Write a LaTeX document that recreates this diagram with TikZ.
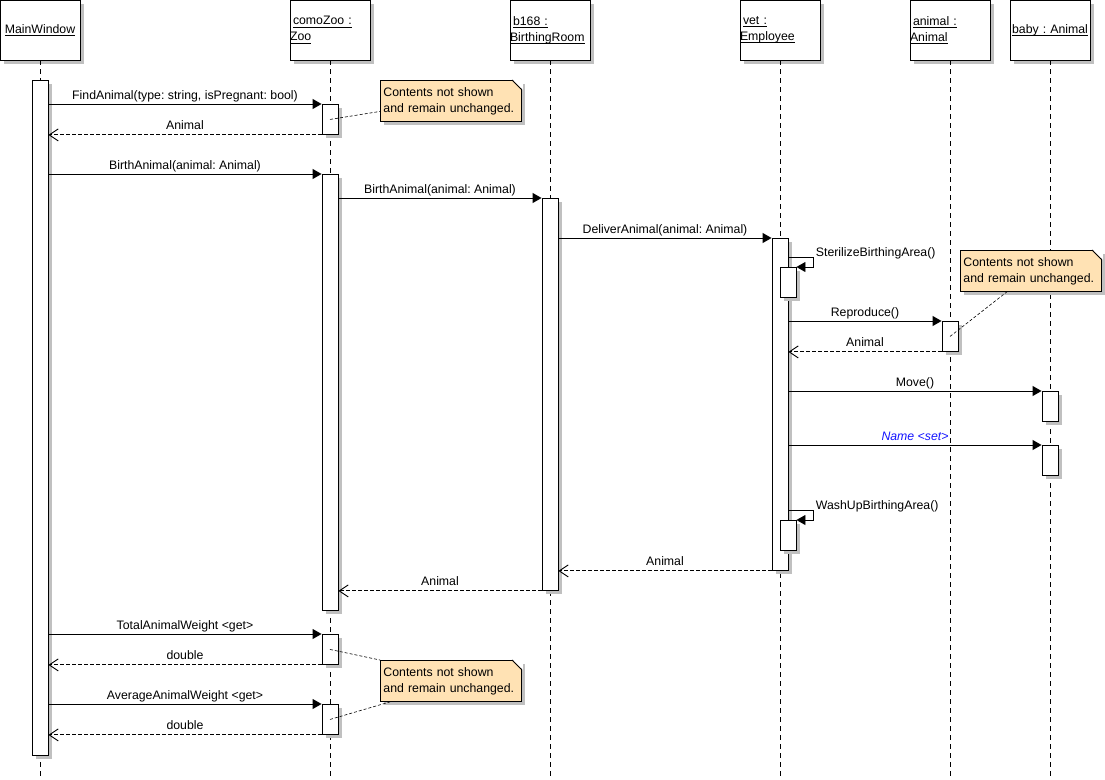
\documentclass[tikz,border=0pt]{standalone}
\usepackage{fontspec}
\setmainfont{Liberation Sans}
\usetikzlibrary{arrows.meta,calc,shadows}

\definecolor{notefill}{RGB}{255,226,180}
\definecolor{shade}{RGB}{192,192,192}
\definecolor{setblue}{RGB}{20,20,255}
\newcommand{\umlfont}{\fontsize{12.3}{16}\selectfont}
\newlength{\objnamewd}
\newcommand{\objname}[1]{\leavevmode\settowidth{\objnamewd}{#1}%
  \rlap{\rule[-2.5pt]{\objnamewd}{0.9pt}}#1}
\frenchspacing

\tikzset{
  uml shadow/.style={general shadow={fill=shade, shadow xshift=4pt, shadow yshift=-4pt}},
  obj/.style={draw, fill=white, uml shadow, minimum width=80pt, minimum height=60pt,
              text width=80pt, inner sep=0pt, align=center, font=\umlfont},
  lifeline/.style={dash pattern=on 5pt off 4pt},
  act/.style={draw, fill=white, uml shadow, anchor=north, minimum width=16pt, inner sep=0pt},
  call/.style={-{Triangle[length=9pt,width=10pt]}},
  reply/.style={dash pattern=on 4pt off 2pt, -{Straight Barb[length=9pt,width=12pt]}},
  msg/.style={anchor=base, inner sep=0pt, yshift=5pt, font=\umlfont},
  selfmsg/.style={anchor=base west, inner sep=0pt, xshift=2pt, yshift=1pt, font=\umlfont},
  note/.style={draw, fill=notefill, uml shadow, anchor=north west, minimum width=141pt,
               minimum height=41pt, text width=135pt, inner xsep=3pt, align=left, font=\umlfont},
  noteline/.style={dash pattern=on 3pt off 2pt, line width=0.6pt},
}

\begin{document}
\begin{tikzpicture}[x=1pt, y=-1pt, line width=0.9pt]
  \useasboundingbox (0,0) rectangle (1105,779);
  \coordinate (bottom) at (0,779);

  % objects
  \node[obj] (mw) at (40,30) {\objname{MainWindow}};
  \node[obj, align=left] (zoo) at (330,30) {\hspace*{3pt}\objname{comoZoo :}\\\objname{Zoo}};
  \node[obj, align=left] (room) at (550,30) {\hspace*{3pt}\objname{b168 :}\\\objname{BirthingRoom}};
  \node[obj, align=left] (vet) at (780,30) {\hspace*{3pt}\objname{vet :}\\\objname{Employee}};
  \node[obj, align=left] (animal) at (950,30) {\hspace*{3pt}\objname{animal :}\\\objname{Animal}};
  \node[obj] (baby) at (1050,30) {\objname{baby : Animal}};

  % lifelines
  \foreach \o in {mw,zoo,room,vet,animal,baby}
    \draw[lifeline] (\o.south) -- (\o.south |- bottom);

  % activations
  \node[act, minimum height=675pt] (mwa) at (40,80) {};
  \node[act, minimum height=30pt]  (za1) at (330,104) {};
  \node[act, minimum height=436pt] (za2) at (330,174) {};
  \node[act, minimum height=392pt] (ba)  at (550,198) {};
  \node[act, minimum height=332pt] (va)  at (780,238) {};
  \node[act, minimum height=30pt]  (vs1) at (788,267) {};
  \node[act, minimum height=30pt]  (aa)  at (950,321) {};
  \node[act, minimum height=30pt]  (ya1) at (1050,391) {};
  \node[act, minimum height=30pt]  (ya2) at (1050,445) {};
  \node[act, minimum height=30pt]  (vs2) at (788,520) {};
  \node[act, minimum height=30pt]  (za3) at (330,634) {};
  \node[act, minimum height=30pt]  (za4) at (330,704) {};

  % messages
  \draw[call] (mwa.east |- za1.north) -- (za1.north west)
    node[msg, midway] {FindAnimal(type: string, isPregnant: bool)};
  \draw[reply] (za1.south west) -- (mwa.east |- za1.south)
    node[msg, midway] {Animal};
  \draw[call] (mwa.east |- za2.north) -- (za2.north west)
    node[msg, midway] {BirthAnimal(animal: Animal)};
  \draw[call] (za2.east |- ba.north) -- (ba.north west)
    node[msg, midway] {BirthAnimal(animal: Animal)};
  \draw[call] (ba.east |- va.north) -- (va.north west)
    node[msg, midway] {DeliverAnimal(animal: Animal)};
  \draw[call] ($(va.east |- vs1.north)+(0,-10)$) -- ++(25,0)
    node[selfmsg] {SterilizeBirthingArea()} |- (vs1.north east);
  \draw[call] (va.east |- aa.north) -- (aa.north west)
    node[msg, midway] {Reproduce()};
  \draw[reply] (aa.south west) -- (va.east |- aa.south)
    node[msg, midway] {Animal};
  \draw[call] (va.east |- ya1.north) -- (ya1.north west)
    node[msg, midway] {Move()};
  \draw[call] (va.east |- ya2.north) -- (ya2.north west)
    node[msg, midway, font=\umlfont\itshape, text=setblue] {Name <set>};
  \draw[call] ($(va.east |- vs2.north)+(0,-10)$) -- ++(25,0)
    node[selfmsg] {WashUpBirthingArea()} |- (vs2.north east);
  \draw[reply] (va.south west) -- (ba.east |- va.south)
    node[msg, midway] {Animal};
  \draw[reply] (ba.south west) -- (za2.east |- ba.south)
    node[msg, midway] {Animal};
  \draw[call] (mwa.east |- za3.north) -- (za3.north west)
    node[msg, midway] {TotalAnimalWeight <get>};
  \draw[reply] (za3.south west) -- (mwa.east |- za3.south)
    node[msg, midway] {double};
  \draw[call] (mwa.east |- za4.north) -- (za4.north west)
    node[msg, midway] {AverageAnimalWeight <get>};
  \draw[reply] (za4.south west) -- (mwa.east |- za4.south)
    node[msg, midway] {double};

  % notes
  \node[note] (n1) at (380,80)  {Contents not shown\\and remain unchanged.};
  \node[note] (n2) at (960,250) {Contents not shown\\and remain unchanged.};
  \node[note] (n3) at (380,660) {Contents not shown\\and remain unchanged.};
  \foreach \n in {n1,n2,n3} {
    \fill[white] ($(\n.north east)+(-10,-1)$) -- ($(\n.north east)+(1,-1)$)
      -- ($(\n.north east)+(1,10)$) -- cycle;
    \draw ($(\n.north east)+(-10,0)$) -- ($(\n.north east)+(0,10)$);
  }
  \draw[noteline] (za1.center) -- ($(n1.west)!0.5!(n1.south west)$);
  \draw[noteline] (aa.center) -- ($(n2.south west)!0.33!(n2.south east)$);
  \draw[noteline] (za3.center) -- (n3.north west);
  \draw[noteline] (za4.center) -- ($(n3.south west)!0.07!(n3.south east)$);
\end{tikzpicture}
\end{document}
